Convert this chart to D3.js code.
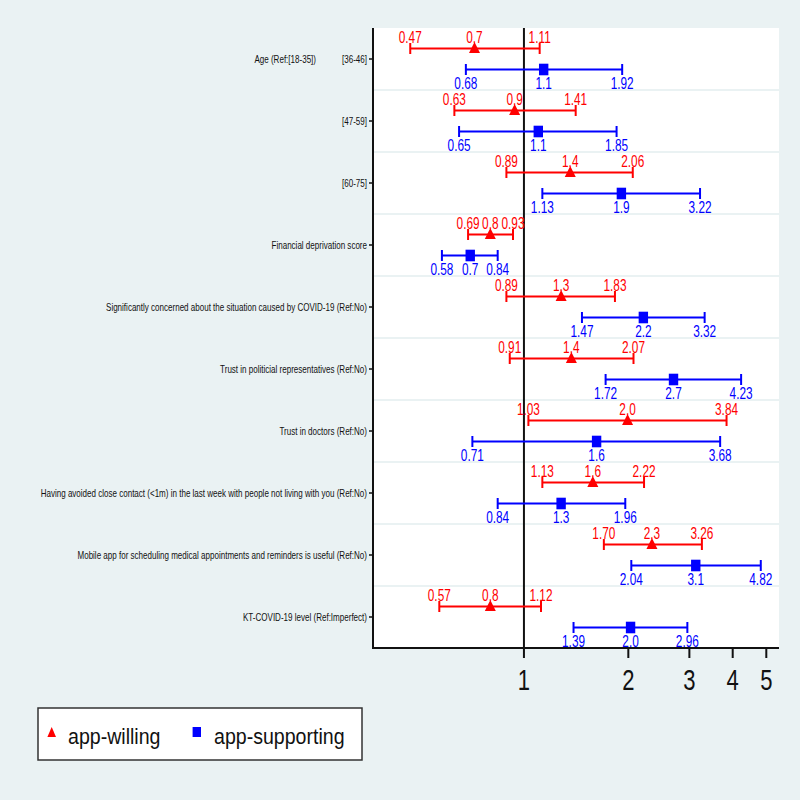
<!DOCTYPE html>
<html>
<head>
<meta charset="utf-8">
<script src="https://cdn.jsdelivr.net/npm/d3@7"></script>
<style>
  html, body { margin: 0; padding: 0; background: #eaf2f3; }
  svg { display: block; }
  text { font-family: "Liberation Sans", Arial, sans-serif; }
</style>
</head>
<body>
<svg id="chart" width="800" height="800"></svg>
<script>
// ---------------- data ----------------
const categories = [
  "[36-46]",
  "[47-59]",
  "[60-75]",
  "Financial deprivation score",
  "Significantly concerned about the situation caused by COVID-19 (Ref:No)",
  "Trust in politicial representatives (Ref:No)",
  "Trust in doctors (Ref:No)",
  "Having avoided close contact (<1m) in the last week with people not living with you (Ref:No)",
  "Mobile app for scheduling medical appointments and reminders is useful (Ref:No)",
  "KT-COVID-19 level (Ref:Imperfect)"
];
const groupLabel = "Age (Ref:[18-35])";

const willingEst  = [0.72, 0.94, 1.36, 0.80, 1.28, 1.37, 1.99, 1.58, 2.34, 0.80];
const willingLow  = [0.47, 0.63, 0.89, 0.69, 0.89, 0.91, 1.03, 1.13, 1.70, 0.57];
const willingHigh = [1.11, 1.41, 2.06, 0.93, 1.83, 2.07, 3.84, 2.22, 3.26, 1.12];

const supportEst  = [1.14, 1.10, 1.91, 0.70, 2.21, 2.70, 1.62, 1.28, 3.13, 2.03];
const supportLow  = [0.68, 0.65, 1.13, 0.58, 1.47, 1.72, 0.71, 0.84, 2.04, 1.39];
const supportHigh = [1.92, 1.85, 3.22, 0.84, 3.32, 4.23, 3.68, 1.96, 4.82, 2.96];

const xTicks = [1, 2, 3, 4, 5];
const seriesNames = ["app-willing", "app-supporting"];

// ---------------- layout ----------------
const svg = d3.select("#chart");
const L = 373, R = 779, T = 28, B = 648;
const RED = "#ff0000", BLUE = "#0000ff";

svg.append("rect").attr("x", 0).attr("y", 0).attr("width", 800).attr("height", 800).attr("fill", "#eaf2f3");
svg.append("rect").attr("x", L).attr("y", T).attr("width", R - L).attr("height", B - T).attr("fill", "#ffffff");

const x = d3.scaleLog().domain([0.367, 5.44]).range([L, R]);
const y = d3.scaleBand().domain(d3.range(categories.length)).range([T, B]);
const yc = i => y(i) + y.bandwidth() / 2;

function txt(g, s, px, py, opts) {
  return g.append("text")
    .attr("transform", `translate(${px},${py}) scale(${opts.sx},1)`)
    .attr("text-anchor", opts.anchor || "middle")
    .attr("font-size", opts.size)
    .attr("fill", opts.fill || "#000")
    .text(s);
}

// gridlines between rows
const grid = svg.append("g");
d3.range(1, categories.length).forEach(k => {
  grid.append("line")
    .attr("x1", L + 1).attr("x2", R)
    .attr("y1", y(k)).attr("y2", y(k))
    .attr("stroke", "#eaf2f3").attr("stroke-width", 2);
});

// reference line at 1
svg.append("line").attr("x1", x(1)).attr("x2", x(1)).attr("y1", T).attr("y2", B)
  .attr("stroke", "#111").attr("stroke-width", 2);

// series
const series = [
  { est: willingEst, low: willingLow, high: willingHigh, color: RED, off: -10.5, shape: "tri", above: true },
  { est: supportEst, low: supportLow, high: supportHigh, color: BLUE, off: 10.5, shape: "sq", above: false }
];

const labelSize = 16, labelSx = 0.74;
series.forEach(s => {
  const g = svg.append("g");
  categories.forEach((c, i) => {
    const yy = yc(i) + s.off;
    const x0 = x(s.low[i]), x1 = x(s.high[i]), xm = x(s.est[i]);
    g.append("line").attr("x1", x0).attr("x2", x1).attr("y1", yy).attr("y2", yy)
      .attr("stroke", s.color).attr("stroke-width", 2);
    [x0, x1].forEach(xx => {
      g.append("line").attr("x1", xx).attr("x2", xx).attr("y1", yy - 5.5).attr("y2", yy + 5.5)
        .attr("stroke", s.color).attr("stroke-width", 2);
    });
    if (s.shape === "tri") {
      g.append("path")
        .attr("d", `M${xm},${yy - 6.5} L${xm + 5.5},${yy + 4.5} L${xm - 5.5},${yy + 4.5} Z`)
        .attr("fill", s.color);
    } else {
      g.append("rect").attr("x", xm - 4.7).attr("y", yy - 5.8).attr("width", 9.4).attr("height", 11.6)
        .attr("fill", s.color);
    }
    const ly = s.above ? yy - 5.7 : yy + 19;
    const vals = [[s.low[i], s.low[i].toFixed(2)], [s.est[i], s.est[i].toFixed(1)], [s.high[i], s.high[i].toFixed(2)]];
    vals.forEach(v => {
      txt(g, v[1], x(v[0]), ly, { size: labelSize, sx: labelSx, fill: s.color });
    });
  });
});

// axes lines
svg.append("line").attr("x1", L).attr("x2", L).attr("y1", T).attr("y2", B + 1)
  .attr("stroke", "#111").attr("stroke-width", 2);
svg.append("line").attr("x1", L - 1).attr("x2", R).attr("y1", B).attr("y2", B)
  .attr("stroke", "#111").attr("stroke-width", 2);

// y ticks and labels
const ya = svg.append("g");
categories.forEach((c, i) => {
  ya.append("line").attr("x1", L - 4).attr("x2", L).attr("y1", yc(i)).attr("y2", yc(i))
    .attr("stroke", "#111").attr("stroke-width", 1.5);
  txt(ya, c, 367, yc(i) + 4, { size: 11, sx: 0.73, anchor: "end", fill: "#111" });
});
txt(ya, groupLabel, 316, yc(0) + 4, { size: 11, sx: 0.73, anchor: "end", fill: "#111" });

// x ticks and labels
const xa = svg.append("g");
xTicks.forEach(t => {
  xa.append("line").attr("x1", x(t)).attr("x2", x(t)).attr("y1", B).attr("y2", B + 10)
    .attr("stroke", "#111").attr("stroke-width", 2);
  txt(xa, String(t), x(t), 690, { size: 29, sx: 0.76, fill: "#111" });
});

// legend
const lg = svg.append("g");
lg.append("rect").attr("x", 38).attr("y", 708).attr("width", 324).attr("height", 52)
  .attr("fill", "#ffffff").attr("stroke", "#333").attr("stroke-width", 1.5);
lg.append("path").attr("d", `M51.7,727 L56,737 L47.4,737 Z`).attr("fill", RED);
lg.append("rect").attr("x", 192.6).attr("y", 727).attr("width", 8.4).attr("height", 10).attr("fill", BLUE);
txt(lg, seriesNames[0], 68, 744, { size: 22, sx: 0.89, anchor: "start", fill: "#111" });
txt(lg, seriesNames[1], 214, 744, { size: 22, sx: 0.89, anchor: "start", fill: "#111" });
</script>
</body>
</html>
